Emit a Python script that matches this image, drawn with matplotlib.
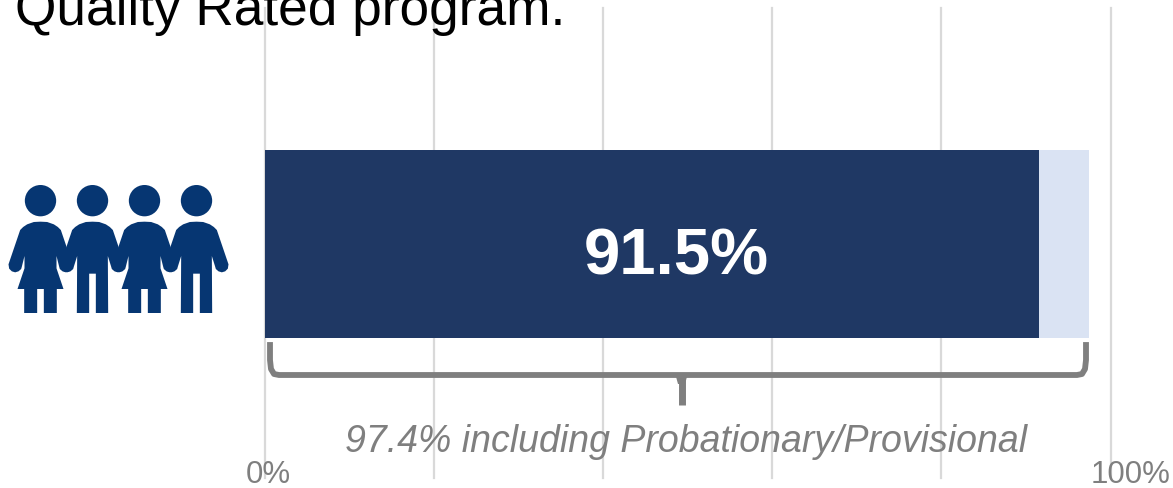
import matplotlib
matplotlib.use('Agg')
import matplotlib.pyplot as plt
import numpy as np
from matplotlib.patches import Polygon, Circle

plt.rcParams['font.family'] = ['Liberation Sans', 'DejaVu Sans']

# data
quality_rated = 91.5
with_provisional = 97.4
tick_vals = [0, 20, 40, 60, 80, 100]
tick_labels = ['0%', '', '', '', '', '100%']
title_text = 'Quality Rated program.'
note_text = '97.4% including Probationary/Provisional'

W, H = 1173, 488
fig = plt.figure(figsize=(W / 100, H / 100), dpi=100)

# chart axes, gridlines run from y=8 to y=478
ax = fig.add_axes([265 / W, (H - 478) / H, 845.5 / W, 470 / H])
ax.set_xlim(0, 100)
ax.set_ylim(-1.245, 1.255)
ax.barh([0], [with_provisional], height=1, color='#DAE3F3', zorder=2)
ax.barh([0], [quality_rated], height=1, color='#1F3864', zorder=3)
ax.set_xticks(tick_vals)
ax.set_yticks([])
ax.tick_params(length=0, labelbottom=False)
ax.grid(True, axis='x', color='#D9D9D9', lw=1.6, clip_on=False)
ax.set_axisbelow(True)
for s in ax.spines.values():
    s.set_visible(False)
ax.text(with_provisional / 2, -0.07, f'{quality_rated}%', color='white', fontsize=47,
        fontweight='bold', ha='center', va='center', zorder=4)

# overlay in pixel coords for icon, brace and loose text
ov = fig.add_axes([0, 0, 1, 1], facecolor='none')
ov.set_xlim(0, W)
ov.set_ylim(H, 0)
ov.axis('off')

ov.text(15, 25, title_text, fontsize=38.3, color='black', va='baseline', ha='left')
ov.text(686, 452, note_text, fontsize=27, style='italic', color='#7F7F7F',
        va='baseline', ha='center')
ov.text(268.5, 483, tick_labels[0], fontsize=22.5, color='#7F7F7F', va='baseline', ha='center')
ov.text(1131, 483, tick_labels[-1], fontsize=22.5, color='#7F7F7F', va='baseline', ha='center')

# brace
gray = '#7F7F7F'
ov.plot([270, 270, 271, 274, 279, 1077, 1082, 1085, 1086, 1086],
        [345, 360, 369, 374, 375, 375, 374, 369, 360, 345], color=gray, lw=4.2,
        solid_joinstyle='round')
ov.plot([681.5, 681.5], [377, 405], color=gray, lw=5, solid_capstyle='butt')
ov.add_patch(Polygon([[675, 373], [681.5, 376], [688, 373], [685, 384], [678, 384]], color=gray, lw=0))


def person(cx, girl):
    navy = '#063672'
    s = 1 / 3
    y0 = 170
    def pts(half):
        half = np.array(half, dtype=float)
        left = half[::-1] * [-1, 1]
        out = np.vstack([half, left])
        return np.column_stack([cx + out[:, 0] * s, y0 + out[:, 1] * s])
    arm = [(0, 155), (20, 156), (40, 163), (52, 171), (61, 180), (96, 283), (94, 296), (86, 304),
           (76, 307), (66, 304), (58, 297), (56, 290)]
    if girl:
        body = arm + [(48, 258), (48, 295), (69, 357), (49, 357), (49, 429), (10, 429), (10, 357)]
    else:
        body = arm + [(46, 258), (47, 429), (10, 429), (10, 311)]
    ov.add_patch(Polygon(pts(body), closed=True, color=navy, lw=0))
    ov.add_patch(Circle((cx, y0 + 92 * s), 47 * s, color=navy, lw=0))


for cx, girl in zip([40.5, 92.5, 144.5, 196.5], [True, False, True, False]):
    person(cx, girl)

fig.savefig('out.png', dpi=100)
